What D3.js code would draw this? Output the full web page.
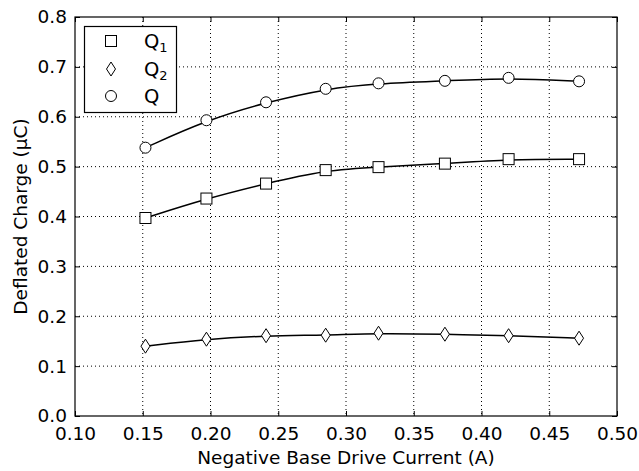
<!DOCTYPE html>
<html><head><meta charset="utf-8">
<script src="https://cdn.jsdelivr.net/npm/d3@7"></script>
<style>body{margin:0;background:#fff}svg{display:block;font-family:"DejaVu Sans",sans-serif}</style>
</head><body><svg id="c" width="639" height="471"></svg>
<script>
const current = [0.152, 0.197, 0.241, 0.285, 0.324, 0.373, 0.420, 0.472];
const q1 = [0.397, 0.436, 0.466, 0.493, 0.499, 0.506, 0.515, 0.515];
const q2 = [0.140, 0.154, 0.161, 0.162, 0.166, 0.164, 0.161, 0.156];
const q  = [0.538, 0.593, 0.629, 0.656, 0.667, 0.672, 0.678, 0.671];
const xTicks = [0.10,0.15,0.20,0.25,0.30,0.35,0.40,0.45,0.50];
const yTicks = [0.0,0.1,0.2,0.3,0.4,0.5,0.6,0.7,0.8];
const seriesNames = ["Q1","Q2","Q"];
const seriesSub = ["1","2",""];
const seriesMarker = ["square","diamond","circle"];

const svg = d3.select("#c");
const L=75,R=617,T=17,B=416;
const x = d3.scaleLinear().domain([0.10,0.50]).range([L,R]);
const y = d3.scaleLinear().domain([0,0.8]).range([B,T]);
const fs = 18.5;

// grid
const g = svg.append("g");
g.selectAll(".gx").data(xTicks.slice(1,-1)).enter().append("line")
 .attr("x1",d=>x(d)).attr("x2",d=>x(d)).attr("y1",T).attr("y2",B)
 .attr("stroke","#000").attr("stroke-width",1).attr("stroke-dasharray","1,3");
g.selectAll(".gy").data(yTicks.slice(1,-1)).enter().append("line")
 .attr("y1",d=>y(d)).attr("y2",d=>y(d)).attr("x1",L).attr("x2",R)
 .attr("stroke","#000").attr("stroke-width",1).attr("stroke-dasharray","1,3");

// axes
const fmt = d3.format(".2f");
const xa = svg.append("g").attr("transform",`translate(0,${B})`)
 .call(d3.axisBottom(x).tickValues(xTicks).tickFormat(fmt).tickSizeInner(-5).tickSizeOuter(0).tickPadding(11));
const xt = svg.append("g").attr("transform",`translate(0,${T})`)
 .call(d3.axisTop(x).tickValues(xTicks).tickFormat("").tickSizeInner(-5).tickSizeOuter(0));
const ya = svg.append("g").attr("transform",`translate(${L},0)`)
 .call(d3.axisLeft(y).tickValues(yTicks).tickFormat(d3.format(".1f")).tickSizeInner(-5).tickSizeOuter(0).tickPadding(8));
const yr = svg.append("g").attr("transform",`translate(${R},0)`)
 .call(d3.axisRight(y).tickValues(yTicks).tickFormat("").tickSizeInner(-5).tickSizeOuter(0));
[xa,xt,ya,yr].forEach(a=>{a.select(".domain").remove();
 a.selectAll("text").attr("font-size",fs).attr("font-family","DejaVu Sans").attr("fill","#000");
 a.selectAll("line").attr("stroke","#000");});
svg.append("rect").attr("x",L).attr("y",T).attr("width",R-L).attr("height",B-T)
 .attr("fill","none").attr("stroke","#000").attr("stroke-width",1.2);

// labels
svg.append("text").attr("x",(L+R)/2).attr("y",464).attr("text-anchor","middle")
 .attr("font-size",fs).text("Negative Base Drive Current (A)");
svg.append("text").attr("transform",`translate(27,${(T+B)/2}) rotate(-90)`).attr("text-anchor","middle")
 .attr("font-size",fs).text("Deflated Charge (μC)");

function marker(sel,type){
  if(type==="diamond") return sel.append("path").attr("d","M0,-7L4.5,0L0,7L-4.5,0Z");
  if(type==="square") return sel.append("rect").attr("x",-5.5).attr("y",-5.5).attr("width",11).attr("height",11);
  return sel.append("circle").attr("r",5.5);
}
const line = d3.line().x(d=>x(d[0])).y(d=>y(d[1])).curve(d3.curveBasis);
[q1,q2,q].forEach((vals,i)=>{
  const pts = current.map((c,j)=>[c,vals[j]]);
  svg.append("path").attr("d",line(pts)).attr("fill","none").attr("stroke","#000").attr("stroke-width",1.5);
  pts.forEach(p=>{
    const m = svg.append("g").attr("transform",`translate(${x(p[0])},${y(p[1])})`);
    marker(m,seriesMarker[i]).attr("fill","#fff").attr("stroke","#000").attr("stroke-width",1);
  });
});

// legend
svg.append("rect").attr("x",84.5).attr("y",26.5).attr("width",92).attr("height",86)
 .attr("fill","#fff").attr("stroke","#000").attr("stroke-width",1.2);
const rowsY=[41,69,96];
seriesNames.forEach((n,i)=>{
  const m = svg.append("g").attr("transform",`translate(111,${rowsY[i]})`);
  marker(m,seriesMarker[i]).attr("fill","#fff").attr("stroke","#000").attr("stroke-width",1);
  const t = svg.append("text").attr("x",144).attr("y",rowsY[i]+7).attr("font-size",fs+1);
  t.append("tspan").text("Q");
  if(seriesSub[i]) t.append("tspan").attr("font-size",13).attr("dy",4).text(seriesSub[i]);
});
</script></body></html>
